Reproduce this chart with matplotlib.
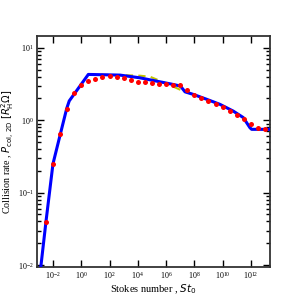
import matplotlib
matplotlib.use("Agg")
import matplotlib.pyplot as plt
import numpy as np
from matplotlib.ticker import FixedLocator, FuncFormatter, LogLocator, NullFormatter

plt.rcParams["font.family"] = ["Liberation Serif", "DejaVu Serif"]
plt.rcParams["mathtext.fontset"] = "dejavusans"

# red dots: simulation, every half decade in Stokes number
dot_logst = np.arange(-2.5, 13.01, 0.5)
dot_rate = [0.039, 0.25, 0.645, 1.45, 2.39, 3.06, 3.45, 3.75, 3.95, 4.05, 3.99,
            3.87, 3.56, 3.40, 3.34, 3.27, 3.19, 3.13, 3.09, 3.03, 2.61, 2.25,
            2.02, 1.84, 1.68, 1.51, 1.36, 1.19, 1.04, 0.89, 0.77, 0.75]

# blue solid: analytic model
blue_logst = [-2.95, -2.85, -2.5, -2.0, -1.5, -1.03, -0.85, 0.5, 2.74, 4.15,
              6.49, 7.02, 7.34, 7.92, 8.87, 9.81, 10.75, 11.46, 11.93, 12.05, 13.4]
blue_rate = [0.0075, 0.0098, 0.039, 0.25, 0.62, 1.45, 1.85, 4.3, 4.21, 3.86,
             3.13, 2.97, 2.47, 2.28, 1.95, 1.66, 1.34, 1.09, 0.79, 0.75, 0.75]

# yellow dashed: alternative model (differs between 1e4 and 1e7)
yel_logst = [0.5, 2.74, 4.15, 4.86, 5.71, 7.12, 7.92, 8.87, 9.81, 10.75, 11.46,
             11.93, 12.05, 13.4]
yel_rate = [4.3, 4.21, 4.13, 4.0, 3.42, 2.58, 2.28, 1.95, 1.66, 1.34, 1.09,
            0.79, 0.75, 0.75]

xticks_exp = [-2, 0, 2, 4, 6, 8, 10, 12]

fig = plt.figure(figsize=(3, 3), dpi=100)
ax = fig.add_axes([0.1233, 0.11, 0.7767, 0.77])

ax.plot(10 ** np.array(yel_logst), yel_rate, color="#c4c400", lw=1.5,
        ls=(0, (3.5, 2.5)), zorder=2)
ax.plot(10 ** np.array(blue_logst), blue_rate, color="#0000ff", lw=2.2, zorder=3)
ax.plot(10 ** dot_logst, dot_rate, "o", color="#ff0000", ms=3.6, mec="none",
        zorder=4, clip_on=False)

ax.set_xscale("log")
ax.set_yscale("log")
ax.set_xlim(10 ** -3.13, 10 ** 13.35)
ax.set_ylim(0.0094, 14.6)

fmt = FuncFormatter(lambda v, p: r"$\mathregular{10^{%d}}$" % round(np.log10(v)))
ax.xaxis.set_major_locator(FixedLocator([10.0 ** e for e in xticks_exp]))
ax.xaxis.set_minor_locator(FixedLocator([]))
ax.xaxis.set_major_formatter(fmt)
ax.yaxis.set_major_locator(LogLocator(base=10))
ax.yaxis.set_minor_locator(LogLocator(base=10, subs=np.arange(2, 10)))
ax.yaxis.set_major_formatter(fmt)
ax.yaxis.set_minor_formatter(NullFormatter())

ax.tick_params(which="both", direction="in", top=True, right=True,
               labelsize=5.8, pad=2.5, width=1.0)
ax.tick_params(which="major", length=5)
ax.tick_params(which="minor", length=2.8)
for s in ax.spines.values():
    s.set_linewidth(1.3)
    s.set_color("#333333")

ax.set_xlabel("Stokes number , $St_0$", fontsize=7.5, labelpad=1)
ax.set_ylabel(r"Collision rate , $P_{\rm col,\,2D}$ $[R_{\rm H}^2\Omega]$",
              fontsize=7.2)
ax.yaxis.set_label_coords(-0.088, 0.5)

fig.savefig("out.png", dpi=100)
